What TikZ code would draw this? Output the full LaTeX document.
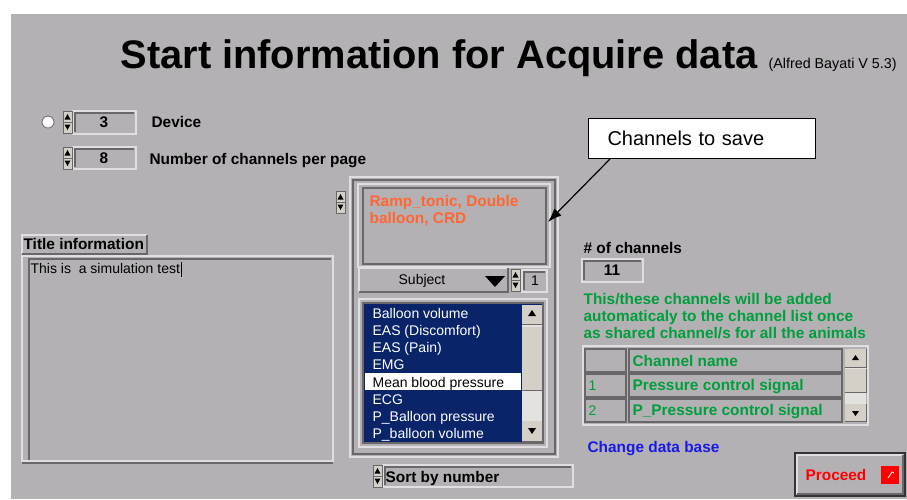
\documentclass[tikz,border=0pt]{standalone}
\usepackage{fontspec}
\setmainfont{Liberation Sans}
\usetikzlibrary{arrows.meta}

\definecolor{panelgray}{RGB}{180,177,180}
\definecolor{lightline}{RGB}{224,222,224}
\definecolor{darkline}{RGB}{105,103,105}
\definecolor{btnface}{RGB}{212,208,200}
\definecolor{trackgray}{RGB}{228,226,222}
\definecolor{navy}{RGB}{10,36,106}
\definecolor{orangetxt}{RGB}{255,102,51}
\definecolor{greentxt}{RGB}{0,158,60}
\definecolor{bluetxt}{RGB}{25,25,230}

\begin{document}
\begin{tikzpicture}[x=1pt, y=-1pt, line width=1.2pt, >=Latex,
  lbl/.style={anchor=west, inner sep=0pt, text height=11pt, text depth=2pt,
    font=\bfseries\fontsize{15.4}{17}\selectfont},
  entry/.style={anchor=west, inner sep=0pt, text height=10.5pt, text depth=2.5pt,
    font=\fontsize{14}{17}\selectfont}]
  \useasboundingbox (0,0) rectangle (907,499);
  \fill[white] (0,0) rectangle (907,499);
  \fill[panelgray] (11,14) rectangle (907,499);

  % heading
  \node[anchor=base west, inner sep=0pt, font=\bfseries\fontsize{39.8}{40}\selectfont]
    (title) at (120,68) {Start information for Acquire data};
  \node[anchor=base west, inner sep=0pt, font=\fontsize{14.3}{15}\selectfont]
    (version) at (768,68) {(Alfred Bayati V 5.3)};

  % sunken value boxes
  \foreach \xa/\ya/\xb/\yb in {73/111/136/134, 73/147/136/169, 582/259/643/282,
                               522/270/547/292, 383/465/573/487}
  {
    \draw[lightline] (\xa,\ya) rectangle (\xb,\yb);
    \draw[darkline] (\xa+2,\yb-2) |- (\xb-2,\ya+2);
  }
  % up/down spinners
  \foreach \sx/\sy in {63/111, 63/147, 336/191, 511/269, 373/465}
  {
    \fill[btnface] (\sx,\sy) rectangle (\sx+9,\sy+22);
    \draw[darkline, line width=0.6pt] (\sx,\sy) rectangle (\sx+9,\sy+22);
    \draw[darkline, line width=0.6pt] (\sx,\sy+11) -- (\sx+9,\sy+11);
    \fill (\sx+4.5,\sy+3) -- (\sx+7.5,\sy+8.5) -- (\sx+1.5,\sy+8.5) -- cycle;
    \fill (\sx+4.5,\sy+19) -- (\sx+7.5,\sy+13.5) -- (\sx+1.5,\sy+13.5) -- cycle;
  }

  \node[circle, draw=darkline, line width=0.8pt, fill=white, minimum size=12pt, inner sep=0pt]
    (radio) at (48,122) {};
  \node[lbl, anchor=center] (devval) at (104,122.5) {3};
  \node[lbl] (device) at (151,122.5) {Device};
  \node[lbl, anchor=center] (pageval) at (104,158.5) {8};
  \node[lbl] (perpage) at (149,159.5) {Number of channels per page};

  % title information
  \draw[lightline] (22,254) |- (147,235);
  \draw[darkline] (22,254) -| (147,235);
  \node[lbl] (titlelbl) at (23,245) {Title information};
  \draw[lightline] (22,256) rectangle (333,461);
  \draw[darkline] (29,460) |- (331,259);
  \draw[darkline] (22,463) -- (333,463);
  \node[entry] (titletext) at (30,269.5) {This is\ \ a simulation test};
  \draw[line width=0.9pt] ([xshift=1pt]titletext.north east) -- ([xshift=1pt]titletext.south east);

  % channel selection cluster
  \draw[lightline] (350,177) rectangle (558,457);
  \draw[darkline] (353,180) rectangle (555,454);
  \draw[lightline] (358,184) rectangle (550,267);
  \draw[darkline] (363,188) rectangle (546,264);
  \node[lbl, text=orangetxt, anchor=north west, align=left, text height=, text depth=]
    (saved) at (369,194.5) {Ramp\_tonic, Double\\balloon, CRD};

  \draw[lightline] (359,292) |- (508,268);
  \draw[darkline] (359,292) -| (508,268);
  \node[entry, anchor=center] (subject) at (422,280.5) {Subject};
  \fill (485,276) -- (505,276) -- (495,287) -- cycle;
  \node[entry, anchor=center] (subjval) at (535,281.5) {1};

  \draw[lightline] (359,299) rectangle (547,447);
  \fill[navy] (363,303) rectangle (543,443);
  \draw[darkline] (363,303) rectangle (543,443);
  \fill[white] (365,373) rectangle (521,390);
  \foreach \txt/\col [count=\i] in {Balloon volume/white, EAS (Discomfort)/white,
      EAS (Pain)/white, EMG/white, Mean blood pressure/black, ECG/white,
      P\_Balloon pressure/white, P\_balloon volume/white}
    \node[entry, text=\col] (item\i) at (372,{297.4+17.14*\i}) {\txt};
  % list scrollbar
  \fill[trackgray] (522,305) rectangle (542,441);
  \foreach \ya/\yb in {305/324, 327/390, 421/441}
  {
    \fill[btnface] (522,\ya) rectangle (542,\yb);
    \draw[darkline, line width=0.8pt] (522,\yb) -| (542,\ya);
  }
  \fill (532,310) -- (536,316) -- (528,316) -- cycle;
  \fill (532,434) -- (536,428) -- (528,428) -- cycle;

  \node[lbl] (sortby) at (385,477.5) {Sort by number};

  % shared channels
  \node[lbl] (count) at (583,248.5) {\# of channels};
  \node[lbl, anchor=center] (countval) at (612,271) {11};
  \foreach \ln [count=\i] in {{This/these channels will be added},
      {automaticaly to the channel list once}, {as shared channel/s for all the animals}}
    \node[lbl, text=greentxt] (note\i) at (583,{282.5+17*\i}) {\ln};

  \draw[lightline] (583,346) rectangle (868,425);
  \foreach \ya/\yb in {349/372, 374/397, 399/422}
  {
    \draw[darkline] (585,\ya) rectangle (626,\yb);
    \draw[darkline] (629,\ya) rectangle (842,\yb);
  }
  \node[lbl, text=greentxt] (colhead) at (632,361.5) {Channel name};
  \node[entry, text=greentxt] (idx1) at (588,386) {1};
  \node[lbl, text=greentxt] (chan1) at (632,386) {Pressure control signal};
  \node[entry, text=greentxt] (idx2) at (588,411) {2};
  \node[lbl, text=greentxt] (chan2) at (632,411) {P\_Pressure control signal};
  % table scrollbar
  \fill[trackgray] (845,349) rectangle (866,421);
  \foreach \ya/\yb in {349/367, 369/392, 404/421}
  {
    \fill[btnface] (845,\ya) rectangle (866,\yb);
    \draw[darkline, line width=0.8pt] (845,\yb) -| (866,\ya);
  }
  \fill (855.5,355) -- (859,360) -- (852,360) -- cycle;
  \fill (855.5,416) -- (859,411) -- (852,411) -- cycle;

  \node[lbl, text=bluetxt] (database) at (587,447.5) {Change data base};

  % proceed button
  \draw[black!80] (795,453) rectangle (905,496);
  \draw[lightline] (797,494) |- (903,455);
  \draw[darkline] (797,494) -| (903,455);
  \node[lbl, text=red] (proceed) at (805,475.5) {Proceed};
  \fill[red] (881,466) rectangle (899,484);
  \draw[white, line width=0.8pt] (888,478) -- (892,472) -- (894,473);

  % callout
  \node[draw=black, fill=white, line width=1pt, anchor=north west, minimum height=40pt,
    inner xsep=19pt, text width=189pt, align=left, font=\fontsize{20}{22}\selectfont]
    (callout) at (588,118) {Channels to save};
  \coordinate (tip) at (548,222);
  \draw[-{Latex[length=14pt,width=10pt]}, line width=1.2pt]
    ([xshift=22pt]callout.south west) -- (tip);
\end{tikzpicture}
\end{document}
